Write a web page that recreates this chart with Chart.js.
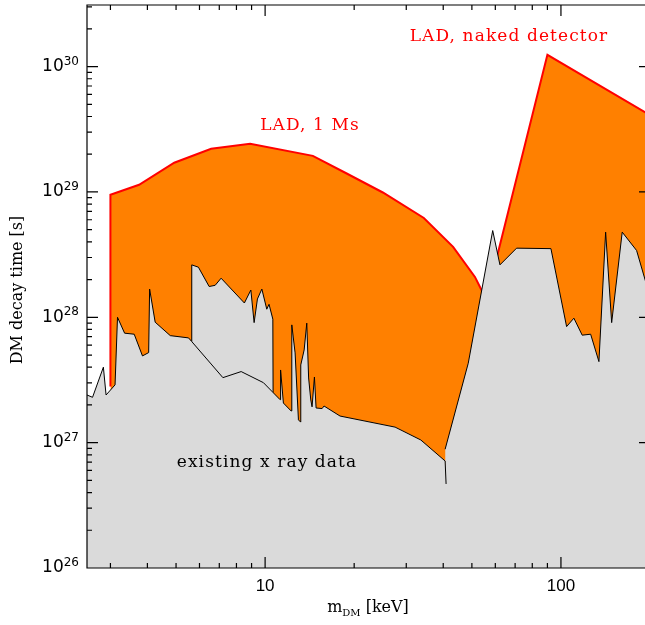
<!DOCTYPE html>
<html>
<head>
<meta charset="utf-8">
<script src="https://cdn.jsdelivr.net/npm/chart.js@4.4.1/dist/chart.umd.min.js"></script>
<style>
  html, body { margin: 0; padding: 0; background: #fff; overflow: hidden; }
  #wrap { width: 650px; height: 625px; }
</style>
</head>
<body>
<div id="wrap"><canvas id="decayChart"></canvas></div>
<script>
// LAD reach, 1 Ms observation (mass in keV, lifetime in s)
const ladMsMass = [3.0, 3.0, 3.75, 4.93, 6.57, 8.9, 14.5, 18.8, 25.0, 34.4, 43.2, 51.2, 55];
const ladMsTau  = [2.8e27, 9.5e28, 1.14e29, 1.71e29, 2.21e29, 2.42e29, 1.94e29, 1.41e29, 9.9e28, 6.2e28, 3.65e28, 2.1e28, 1.5e28];

// LAD reach, naked detector
const ladNakedMass = [56, 90, 200];
const ladNakedTau  = [1.4e28, 1.24e30, 4.1e29];

// existing X-ray bounds, low-mass envelope
const xrayLowMass = [2.5, 2.61, 2.84, 2.90, 3.11, 3.17, 3.35, 3.61, 3.85, 4.04, 4.07, 4.25, 4.78, 5.51, 5.65,
  7.20, 8.30, 9.87, 11.24, 11.28, 11.53, 12.24, 12.31, 12.63, 12.96, 13.18, 13.20, 13.55, 13.83, 14.03,
  14.27, 14.41, 14.68, 14.87, 15.58, 15.82, 17.92, 27.5, 33.6, 40.6, 40.9];
const xrayLowTau = [2.40e27, 2.30e27, 4.00e27, 2.40e27, 2.89e27, 1.00e28, 7.47e27, 7.33e27, 4.92e27, 5.23e27,
  1.68e28, 9.14e27, 7.14e27, 6.85e27, 6.40e27, 3.30e27, 3.69e27, 3.01e27, 2.20e27, 3.80e27, 2.07e27,
  1.79e27, 8.70e27, 5.20e27, 1.52e27, 1.46e27, 4.17e27, 5.49e27, 8.98e27, 3.28e27, 2.19e27, 1.93e27,
  3.34e27, 1.89e27, 1.87e27, 1.96e27, 1.63e27, 1.33e27, 1.05e27, 7.14e26, 4.68e26];

// existing X-ray bounds, 5.6-10.6 keV block
const xrayMidMass = [5.65, 5.65, 5.95, 6.47, 6.78, 7.10, 8.51, 8.95, 9.18, 9.42, 9.75, 10.13, 10.31, 10.62, 10.64];
const xrayMidTau  = [6.40e27, 2.62e28, 2.51e28, 1.76e28, 1.80e28, 2.05e28, 1.30e28, 1.65e28, 9.07e27,
  1.40e28, 1.68e28, 1.16e28, 1.27e28, 9.66e27, 2.51e27];

// existing X-ray bounds above 40 keV
const xrayHighMass = [40.6, 48.6, 58.8, 62.2, 70.8, 92.5, 104.5, 110.6, 118.0, 126.0, 134.4, 141.6, 148.4, 161.1, 180.2, 200];
const xrayHighTau  = [8.86e26, 4.30e27, 4.92e28, 2.62e28, 3.56e28, 3.53e28, 8.43e27, 9.84e27, 7.20e27,
  7.33e27, 4.43e27, 4.78e28, 9.07e27, 4.78e28, 3.41e28, 1.46e28];

const xTickValues = [10, 100];
const yTickExponents = [26, 27, 28, 29, 30];

const toPoints = (xs, ys) => xs.map((v, i) => ({ x: v, y: ys[i] }));

const ORANGE = '#ff8000';
const RED = '#ff0000';
const GREY = '#dadada';

function xrayDataset(xs, ys) {
  return {
    data: toPoints(xs, ys),
    borderColor: '#000',
    borderWidth: 1,
    backgroundColor: GREY,
    fill: 'start',
    pointRadius: 0,
    tension: 0
  };
}

function ladDataset(xs, ys) {
  return {
    data: toPoints(xs, ys),
    borderColor: RED,
    borderWidth: 2,
    backgroundColor: ORANGE,
    fill: 'start',
    pointRadius: 0,
    tension: 0
  };
}

const notes = [
  { text: 'LAD, naked detector', x: 509, y: 37, color: RED },
  { text: 'LAD, 1 Ms', x: 310, y: 126, color: RED },
  { text: 'existing x ray data', x: 267, y: 463, color: '#000' }
];

// box frame, inward ticks on all four sides, tick labels and titles
const frameAxes = {
  id: 'frameAxes',
  afterDraw(chart) {
    const { ctx, chartArea: a, scales: { x, y } } = chart;
    ctx.save();
    ctx.strokeStyle = '#000';
    ctx.lineWidth = 1.2;
    ctx.beginPath();
    ctx.rect(a.left, a.top, a.right - a.left, a.bottom - a.top);

    const major = 11, minor = 5;
    for (let dec = 1; dec <= 100; dec *= 10) {
      for (let m = 1; m <= 9; m++) {
        const v = m * dec;
        if (v < x.min || v > x.max) continue;
        const px = x.getPixelForValue(v);
        const len = m === 1 ? major : minor;
        ctx.moveTo(px, a.bottom); ctx.lineTo(px, a.bottom - len);
        ctx.moveTo(px, a.top); ctx.lineTo(px, a.top + len);
      }
    }
    for (let e = 26; e <= 30; e++) {
      for (let m = 1; m <= 9; m++) {
        const v = m * Math.pow(10, e);
        if (v < y.min || v > y.max) continue;
        const py = y.getPixelForValue(v);
        const len = m === 1 ? major : minor;
        ctx.moveTo(a.left, py); ctx.lineTo(a.left + len, py);
        ctx.moveTo(a.right, py); ctx.lineTo(a.right - len, py);
      }
    }
    ctx.stroke();

    ctx.fillStyle = '#000';
    ctx.textBaseline = 'middle';
    ctx.textAlign = 'center';
    ctx.font = '17px "Liberation Sans"';
    xTickValues.forEach(v => {
      ctx.fillText(String(v), x.getPixelForValue(v), a.bottom + 18);
    });

    yTickExponents.forEach(e => {
      const py = y.getPixelForValue(Math.pow(10, e));
      ctx.textAlign = 'right';
      ctx.font = '12px "DejaVu Sans"';
      const ew = ctx.measureText(String(e)).width;
      ctx.fillText(String(e), a.left - 8, py - 5);
      ctx.font = '17px "DejaVu Sans"';
      ctx.fillText('10', a.left - 8 - ew, py);
    });

    // axis titles
    ctx.font = '16px "DejaVu Serif"';
    ctx.save();
    ctx.translate(18, 290);
    ctx.rotate(-Math.PI / 2);
    ctx.textAlign = 'center';
    ctx.fillText('DM decay time [s]', 0, 0);
    ctx.restore();

    ctx.textAlign = 'left';
    const mW = ctx.measureText('m').width;
    ctx.font = '10px "DejaVu Serif"';
    const subW = ctx.measureText('DM').width;
    ctx.font = '16px "DejaVu Serif"';
    const restW = ctx.measureText(' [keV]').width;
    let tx = 368 - (mW + subW + restW) / 2;
    ctx.fillText('m', tx, 608);
    ctx.font = '10px "DejaVu Serif"';
    ctx.fillText('DM', tx + mW, 613);
    ctx.font = '16px "DejaVu Serif"';
    ctx.fillText(' [keV]', tx + mW + subW, 608);

    // in-plot annotations, set a little wider than the plain font
    ctx.textAlign = 'center';
    ctx.font = '17px "DejaVu Serif"';
    ctx.letterSpacing = '1.1px';
    notes.forEach(n => {
      ctx.fillStyle = n.color;
      ctx.fillText(n.text, n.x, n.y);
    });
    ctx.restore();
  }
};

new Chart(document.getElementById('decayChart'), {
  type: 'line',
  data: {
    datasets: [
      xrayDataset(xrayLowMass, xrayLowTau),
      xrayDataset(xrayHighMass, xrayHighTau),
      xrayDataset(xrayMidMass, xrayMidTau),
      ladDataset(ladNakedMass, ladNakedTau),
      ladDataset(ladMsMass, ladMsTau)
    ]
  },
  options: {
    responsive: true,
    maintainAspectRatio: false,
    animation: false,
    events: [],
    layout: { padding: { top: 5, right: 0, left: 0, bottom: 0 } },
    plugins: { legend: { display: false }, tooltip: { enabled: false } },
    scales: {
      x: {
        type: 'logarithmic',
        min: 2.5,
        max: 200,
        grid: { display: false },
        border: { display: false },
        ticks: { display: false },
        afterFit: s => { s.height = 57; }
      },
      y: {
        type: 'logarithmic',
        min: 1e26,
        max: 3.1e30,
        grid: { display: false },
        border: { display: false },
        ticks: { display: false },
        afterFit: s => { s.width = 87; }
      }
    }
  },
  plugins: [frameAxes]
});
</script>
</body>
</html>
